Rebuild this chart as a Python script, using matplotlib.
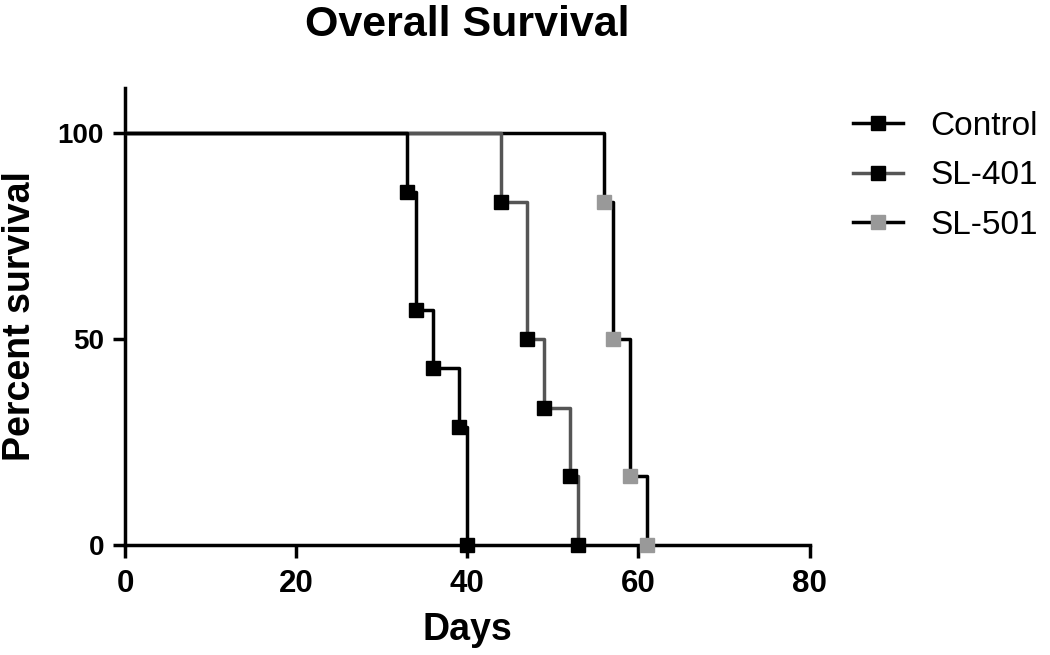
import matplotlib
matplotlib.use("Agg")
import matplotlib.pyplot as plt
import numpy as np

plt.rcParams["font.family"] = ["Liberation Sans", "DejaVu Sans"]

# Kaplan-Meier event times (days) and survival after each event (%)
control_days = [33, 34, 36, 39, 40]
control_surv = [85.7, 57.1, 42.9, 28.6, 0]
sl401_days = [44, 47, 49, 52, 53]
sl401_surv = [83.3, 50, 33.3, 16.7, 0]
sl501_days = [56, 57, 59, 61]
sl501_surv = [83.3, 50, 16.7, 0]

series = [
    # label, days, surv, line colour, marker colour, zorder
    ("Control", control_days, control_surv, "black", "black", 5),
    ("SL-401", sl401_days, sl401_surv, "#555555", "black", 4),
    ("SL-501", sl501_days, sl501_surv, "black", "#999999", 3),
]

fig = plt.figure(figsize=(10.5, 6.55), dpi=100)
ax = fig.add_axes([0.119, 0.168, 0.652, 0.698])

handles = []
for label, days, surv, lc, mc, z in series:
    x = np.concatenate([[0], days])
    y = np.concatenate([[100], surv])
    ax.step(x, y, where="post", color=lc, lw=2.5, zorder=z)
    ax.plot(days, surv, ls="none", marker="s", ms=10, color=mc, zorder=z + 3,
            clip_on=False)
    h, = ax.plot([], [], color=lc, lw=2.5, marker="s", ms=10,
                 markerfacecolor=mc, markeredgecolor=mc)
    handles.append(h)

ax.set_xlim(0, 80)
ax.set_ylim(0, 111)
ax.set_xticks([0, 20, 40, 60, 80])
ax.set_yticks([0, 50, 100])
ax.spines["top"].set_visible(False)
ax.spines["right"].set_visible(False)
for s in ("left", "bottom"):
    ax.spines[s].set_linewidth(2.5)
ax.tick_params(axis="both", width=2.5, length=9)
ax.tick_params(axis="x", pad=8, labelsize=22.5)
ax.tick_params(axis="y", pad=6, labelsize=20)
for t in ax.get_xticklabels() + ax.get_yticklabels():
    t.set_fontweight("bold")

ax.set_xlabel("Days", fontsize=27, fontweight="bold", labelpad=10)
ax.set_ylabel("Percent survival", fontsize=27, fontweight="bold", labelpad=14)
ax.set_title("Overall Survival", fontsize=31, fontweight="bold", pad=37.5)

ax.legend(handles, [s[0] for s in series], loc="upper left",
          bbox_to_anchor=(1.02, 1.015), frameon=False, fontsize=24,
          handlelength=1.5, labelspacing=0.55, handletextpad=0.81)

fig.savefig("out.png", dpi=100)
